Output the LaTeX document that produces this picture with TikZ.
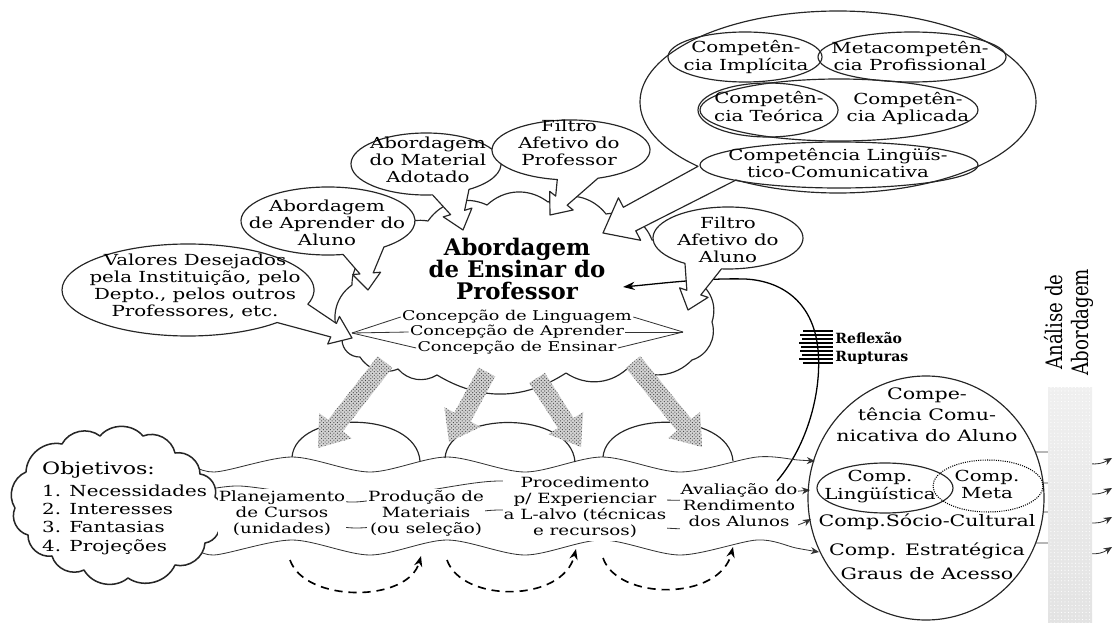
\documentclass[tikz,border=0pt]{standalone}
\usepackage{fontspec}
\usepackage{graphicx}
\setmainfont{DejaVu Serif}
\newfontfamily\titlefont{DejaVu Serif}
\usetikzlibrary{calc,patterns,arrows.meta,positioning}
\newcommand{\tightlines}{\lineskiplimit=-50pt\relax}

\tikzset{
  txt/.style={align=center, inner sep=1pt, font=\fontsize{13}{14.5}\selectfont},
  conc/.style={align=center, inner sep=1pt, font=\fontsize{11.5}{13}\selectfont},
  flowtxt/.style={align=center, inner sep=0.5pt, fill=white, font=\fontsize{12}{13.7}\selectfont},
  comptxt/.style={align=center, inner sep=1pt, font=\fontsize{13.5}{18}\selectfont},
  titletxt/.style={align=center, inner sep=1pt, font=\titlefont\bfseries\fontsize{19.5}{18.8}\selectfont\tightlines},
  boldtxt/.style={inner sep=1pt, font=\bfseries\fontsize{12}{14}\selectfont},
  outline/.style={draw=black!85, line width=1pt},
  bubbleline/.style={draw=black!85, line width=1pt, fill=white},
  thinline/.style={draw=black!80, line width=0.7pt},
  flowarrow/.style={-{Stealth[length=7pt,width=6pt]}},
  loopdash/.style={line width=1.4pt, dash pattern=on 7pt off 5pt, -{Stealth[length=9pt,width=7pt]}},
}

% the scanned lettering is wide
\newcommand{\wide}[1]{\scalebox{1.3}[1]{\begin{tabular}{@{}c@{}}#1\end{tabular}}}
\newcommand{\widel}[1]{\scalebox{1.3}[1]{\begin{tabular}{@{}l@{}}#1\end{tabular}}}
\newcommand{\tall}[1]{\scalebox{1}[1.25]{\begin{tabular}{@{}c@{}}#1\end{tabular}}}

% speech bubble: center, rx, ry, angle1, angle2, tip, shaft, head, head length
\newcommand{\bubble}[9]{%
  \coordinate (bb-m) at ($(#1)+({(#4+#5)/2}:#2 and #3)$);
  \coordinate (bb-h) at ($(#6)!#9!(bb-m)$);
  \draw[bubbleline] ($(#1)+(#5:#2 and #3)$)
    arc[start angle=#5, end angle=#4+360, x radius=#2, y radius=#3]
    -- ($(bb-h)!#7!90:(#6)$) -- ($(bb-h)!#8!90:(#6)$) -- (#6)
    -- ($(bb-h)!#8!-90:(#6)$) -- ($(bb-h)!#7!-90:(#6)$) -- cycle;
}
% dotted grey arrow: from, to
\newcommand{\shadearrow}[2]{%
  \coordinate (sa-h) at ($(#2)!0.85cm!(#1)$);
  \path[fill=gray!35, postaction={pattern=crosshatch dots, pattern color=black!75}]
    ($(#1)!0.28cm!90:(#2)$) -- ($(sa-h)!0.28cm!90:(#2)$) -- ($(sa-h)!0.62cm!90:(#2)$) -- (#2)
    -- ($(sa-h)!0.62cm!-90:(#2)$) -- ($(sa-h)!0.28cm!-90:(#2)$) -- ($(#1)!0.28cm!-90:(#2)$) -- cycle;
}

\begin{document}
\begin{tikzpicture}[x=0.03cm, y=-0.03cm, line join=round]
\useasboundingbox (0,0) rectangle (1114,623);

% cloud of the teacher
\draw[outline] (342,340) to[bend left=45] (352,285) to[bend left=40] (383,247)
  to[bend left=40] (428,221) to[bend left=40] (487,205) to[bend left=40] (548,202)
  to[bend left=40] (606,214) to[bend left=40] (652,240) to[bend left=40] (695,280)
  to[bend left=40] (712,322) to[bend left=45] (692,360) to[bend left=40] (630,366)
  to[bend left=40] (566,373) to[bend left=32] (437,375) to[bend left=40] (398,369)
  to[bend left=40] (360,357) to[bend left=45] (342,340);

\node[conc] (conc1) at (517,317) {\wide{Concepção de Linguagem}};
\node[conc] (conc2) at (517,332) {\wide{Concepção de Aprender}};
\node[conc] (conc3) at (517,348) {\wide{Concepção de Ensinar}};
\coordinate (cleft) at (352,333);
\coordinate (cright) at (683,332);
\foreach \c in {conc1,conc2,conc3} {
  \draw[thinline] (\c.west) -- (cleft);
  \draw[thinline] (\c.east) -- (cright);
}

% feedback
\coordinate (fbstart) at (777,481);
\coordinate (fbend) at (623,287);
\draw[line width=1.1pt, -{Stealth[length=10pt,width=7pt]}] (fbstart)
  .. controls (808,445) and (822,390) .. (818,350)
  .. controls (814,305) and (785,281) .. (745,279)
  .. controls (705,278) and (665,283) .. (fbend);
\foreach \yy/\xl in {331/803,335/800,339/802,343/799,347/801,351/800,355/802,359/799,363/803}
  \draw[line width=1.3pt] (\xl,\yy) -- (833,\yy);
\node[boldtxt, anchor=west] (reflexao) at (834,338) {Reflexão};
\node[boldtxt, anchor=west] (rupturas) at (834,358) {Rupturas};

% bubbles
\coordinate (valores-e) at (188,290);
\coordinate (valores-t) at (352,338);
\bubble{valores-e}{126}{46}{18}{45}{valores-t}{0.22cm}{0.45cm}{0.6cm}
\coordinate (aprender-e) at (328,221);
\coordinate (aprender-t) at (368,290);
\bubble{aprender-e}{87}{34}{50}{80}{aprender-t}{0.2cm}{0.42cm}{0.5cm}
\coordinate (material-e) at (426,164);
\coordinate (material-t) at (463,230);
\bubble{material-e}{75}{31}{55}{85}{material-t}{0.22cm}{0.45cm}{0.55cm}
\coordinate (filtrop-e) at (571,150);
\coordinate (filtrop-t) at (550,215);
\bubble{filtrop-e}{79}{30}{70}{100}{filtrop-t}{0.22cm}{0.45cm}{0.55cm}
\coordinate (compet-e) at (838,102);
\coordinate (compet-t) at (603,233);
\bubble{compet-e}{198}{91}{121}{135}{compet-t}{0.4cm}{0.72cm}{0.9cm}
\coordinate (filtroa-e) at (728,238);
\coordinate (filtroa-t) at (688,310);
\bubble{filtroa-e}{75}{31}{95}{125}{filtroa-t}{0.22cm}{0.45cm}{0.55cm}

\node[txt] (valores) at (195,288) {\wide{Valores Desejados\\pela Instituição, pelo\\Depto., pelos outros\\Professores, etc.}};
\node[txt] (aprender) at (327,225) {\wide{Abordagem\\de Aprender do\\Aluno}};
\node[txt] (material) at (428,162) {\wide{Abordagem\\do Material\\Adotado}};
\node[txt] (filtrop) at (569,145) {\wide{Filtro\\Afetivo do\\Professor}};
\node[txt] (filtroa) at (728,242) {\wide{Filtro\\Afetivo do\\Aluno}};

% competencies of the teacher
\draw[outline] (745,57) ellipse [x radius=77, y radius=25];
\draw[outline] (912,57) ellipse [x radius=94, y radius=25];
\draw[outline] (839,110) ellipse [x radius=139, y radius=31];
\draw[outline] (768,110) ellipse [x radius=70, y radius=27];
\draw[outline] (839,165) ellipse [x radius=139, y radius=23];
\node[txt] (implicita) at (746,58) {\wide{Competên-\\cia Implícita}};
\node[txt] (metacomp) at (910,58) {\wide{Metacompetên-\\cia Profissional}};
\node[txt] (teorica) at (769,109) {\wide{Competên-\\cia Teórica}};
\node[txt] (aplicada) at (908,109) {\wide{Competên-\\cia Aplicada}};
\node[txt] (linguist) at (838,165) {\wide{Competência Lingüís-\\tico-Comunicativa}};

\node[titletxt] (abordagem) at (517,269) {Abordagem\\de Ensinar do\\Professor};

% flow
\draw[thinline, flowarrow] plot[smooth] coordinates {(183,460) (214,472) (292,457) (370,472) (447,457) (525,472) (602,457) (680,472) (757,457) (798,460) (815,461)};
\draw[thinline, flowarrow] plot[smooth] coordinates {(205,490) (240,486) (300,494) (355,502) (430,490) (500,481) (580,490) (665,500) (740,497) (790,492) (810,490)};
\draw[thinline, flowarrow] plot[smooth] coordinates {(205,515) (280,517) (355,528) (430,519) (500,510) (580,519) (665,528) (740,530) (790,527) (811,519)};
\draw[thinline, flowarrow] plot[smooth] coordinates {(192,545) (214,555) (292,540) (370,555) (447,540) (525,555) (602,540) (680,555) (757,540) (796,548) (819,552)};

\draw[outline] (292,457) .. controls (296,410) and (416,410) .. (420,461);
\draw[outline] (445,458) .. controls (449,410) and (571,410) .. (575,462);
\draw[outline] (603,457) .. controls (607,410) and (729,410) .. (733,461);

\draw[loopdash] (290,560) .. controls (305,603) and (408,603) .. (421,556);
\draw[loopdash] (447,560) .. controls (462,603) and (563,603) .. (576,549);
\draw[loopdash] (603,558) .. controls (618,601) and (720,601) .. (733,547);

\coordinate (sa1) at (385,362); \coordinate (ta1) at (318,448);
\coordinate (sa2) at (487,372); \coordinate (ta2) at (449,442);
\coordinate (sa3) at (537,378); \coordinate (ta3) at (581,447);
\coordinate (sa4) at (633,362); \coordinate (ta4) at (702,447);
\shadearrow{sa1}{ta1}
\shadearrow{sa2}{ta2}
\shadearrow{sa3}{ta3}
\shadearrow{sa4}{ta4}

% objectives
\draw[outline, line width=1.3pt, fill=white] (15,508) to[bend left=50] (26,472) to[bend left=50] (62,444)
  to[bend left=50] (100,436) to[bend left=50] (143,436) to[bend left=50] (175,453)
  to[bend left=50] (200,474) to[bend left=50] (215,497) to[bend left=50] (219,520)
  to[bend left=50] (205,543) to[bend left=50] (175,565) to[bend left=50] (128,578)
  to[bend left=50] (84,570) to[bend left=50] (52,556) to[bend left=50] (28,535)
  to[bend left=50] (15,508);
\node[anchor=west, inner sep=0pt, font=\fontsize{13}{15.6}\selectfont] (objetivos) at (42,509)
  {\widel{{\fontsize{14.5}{17}\selectfont Objetivos:}\\[3pt]1. Necessidades\\2. Interesses\\3. Fantasias\\4. Projeções}};

\node[flowtxt] (planej) at (282,514) {\wide{Planejamento\\de Cursos\\(unidades)}};
\node[flowtxt] (producao) at (426,514) {\wide{Produção de\\Materiais\\(ou seleção)}};
\node[flowtxt] (proced) at (585,508) {\wide{Procedimento\\p/ Experienciar\\a L-alvo (técnicas\\e recursos)}};
\node[flowtxt] (avaliacao) at (739,507) {\wide{Avaliação do\\Rendimento\\dos Alunos}};

% learner's competence
\coordinate (aluno-e) at (926,498);
\draw[outline] (aluno-e) ellipse [x radius=118, y radius=122];
\draw[outline] (885,488) ellipse [x radius=68, y radius=25];
\draw[densely dotted, line width=0.9pt] (988,486) ellipse [x radius=55, y radius=26];
\node[comptxt] (comunic) at (927,416) {\wide{Compe-\\tência Comu-\\nicativa do Aluno}};
\node[txt] (ling) at (880,487) {\wide{Comp.\\Lingüística}};
\node[txt] (meta) at (987,487) {\wide{Comp.\\Meta}};
\node[txt, font=\fontsize{13.5}{15}\selectfont] (socio) at (927,523) {\wide{Comp.Sócio-Cultural}};
\node[txt, font=\fontsize{13.5}{15}\selectfont] (estrat) at (927,552) {\wide{Comp. Estratégica}};
\node[txt, font=\fontsize{13.5}{15}\selectfont] (graus) at (927,576) {\wide{Graus de Acesso}};

\foreach \xa/\ya/\yb/\yc in {1035/452/466/458, 1042/483/496/488, 1043/512/525/517, 1036/543/556/547}
  \draw[thinline, flowarrow] (\xa,\ya) -- (1060,\ya) .. controls (1085,\yb) and (1098,\yb) .. (1112,\yc);
\shade[top color=gray!12, middle color=gray!55, bottom color=gray!22] (1048,387) rectangle (1092,623);
\fill[pattern=dots, pattern color=white] (1048,387) rectangle (1092,623);
\node[inner sep=0pt, rotate=90, font=\fontsize{15.5}{18}\selectfont] (analise) at (1070,322) {\tall{Análise de\\Abordagem}};
\end{tikzpicture}
\end{document}
